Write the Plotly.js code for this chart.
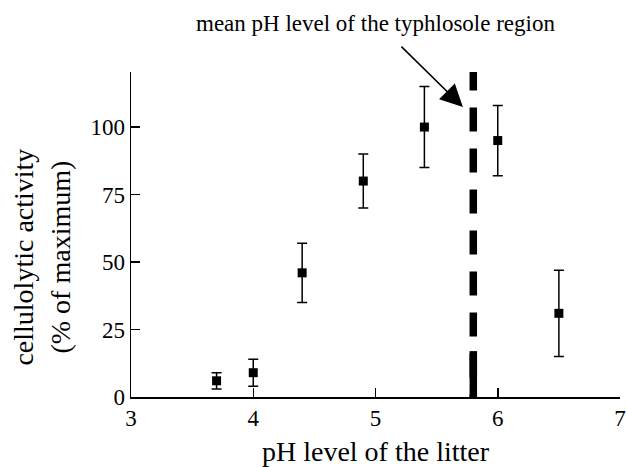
<!DOCTYPE html>
<html>
<head>
<meta charset="utf-8">
<script src="https://cdn.plot.ly/plotly-3.0.1.min.js"></script>
<style>html,body{margin:0;padding:0;background:#fff;}#chart{width:626px;height:467px;}</style>
</head>
<body>
<div id="chart"></div>
<script>
// Data
var phLevels = [3.7, 4.0, 4.4, 4.9, 5.4, 6.0, 6.5];
var activity = [6, 9, 46, 80, 100, 95, 31];
var errPlus  = [3, 5, 11, 10, 15, 13, 16];
var errMinus = [3, 5, 11, 10, 15, 13, 16];
var typhlosolePH = 5.8;
var typhlosoleLineY = [122.4, 0];
var typhlosoleSolidY = [17, 0];
var xTicks = [3, 4, 5, 6, 7];
var yTicks = [0, 25, 50, 75, 100];
var annotationText = 'mean pH level of the typhlosole region';
var arrowTip = {x: 5.715, y: 107.4};

var font = 'Liberation Serif';

var traces = [
  {
    x: [typhlosolePH, typhlosolePH], y: typhlosoleLineY,
    mode: 'lines', line: {color: '#000', width: 7.5, dash: '24px,17px'},
    hoverinfo: 'skip', showlegend: false
  },
  {
    x: [typhlosolePH, typhlosolePH], y: typhlosoleSolidY,
    mode: 'lines', line: {color: '#000', width: 7.5},
    hoverinfo: 'skip', showlegend: false
  },
  {
    x: phLevels, y: activity, mode: 'markers', type: 'scatter',
    marker: {symbol: 'square', size: 9, color: '#000'},
    error_y: {type: 'data', symmetric: false, array: errPlus, arrayminus: errMinus,
              color: '#000', thickness: 1.5, width: 5},
    showlegend: false, cliponaxis: false
  }
];

var layout = {
  width: 626, height: 467,
  margin: {l: 131, r: 6, t: 72, b: 70},
  paper_bgcolor: '#fff', plot_bgcolor: '#fff',
  font: {family: font, color: '#000', size: 20},
  showlegend: false,
  xaxis: {
    range: [3, 7], tickvals: xTicks, ticktext: xTicks.map(String),
    showline: true, linecolor: '#000', linewidth: 1.5,
    ticks: 'inside', ticklen: 9, tickwidth: 1.5, tickcolor: '#000',
    showgrid: false, zeroline: false,
    tickfont: {family: font, size: 23, color: '#000'},
    title: {text: 'pH level of the litter', font: {family: font, size: 28, color: '#000'}, standoff: 14}
  },
  yaxis: {
    range: [0, 120.4], tickvals: yTicks, ticktext: yTicks.map(String),
    showline: true, linecolor: '#000', linewidth: 1.5,
    ticks: 'inside', ticklen: 9, tickwidth: 1.5, tickcolor: '#000',
    showgrid: false, zeroline: false,
    tickfont: {family: font, size: 23, color: '#000'}
  },
  annotations: [
    {
      xref: 'paper', yref: 'paper', x: -0.182, y: 0.429,
      xanchor: 'center', yanchor: 'middle', textangle: -90,
      text: 'cellulolytic activity<br>(% of maximum)', showarrow: false,
      font: {family: font, size: 28, color: '#000'}
    },
    {
      xref: 'paper', yref: 'paper', x: 0.501, y: 1.148,
      xanchor: 'center', yanchor: 'middle',
      text: annotationText, showarrow: false,
      font: {family: font, size: 23, color: '#000'}
    },
    {
      xref: 'x', yref: 'y', x: arrowTip.x, y: arrowTip.y,
      text: '', showarrow: true, ax: -63, ay: -62,
      arrowhead: 2, arrowsize: 2.8, arrowwidth: 1.6, arrowcolor: '#000'
    }
  ]
};

Plotly.newPlot('chart', traces, layout, {displayModeBar: false, staticPlot: true});
</script>
</body>
</html>
